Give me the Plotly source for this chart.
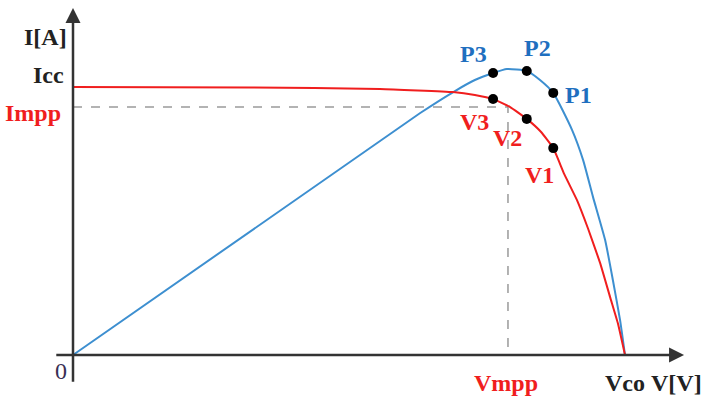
import plotly.graph_objects as go

# I-V characteristic of the PV module (normalised: Vco = 1, Icc-level = 1)
voltage = [0.0, 0.321, 0.556, 0.688, 0.728, 0.761, 0.792, 0.822, 0.848, 0.870,
           0.890, 0.913, 0.933, 0.955, 0.973, 0.987, 1.0]
current = [1.0, 0.998, 0.993, 0.981, 0.970, 0.955, 0.925, 0.881, 0.832, 0.772,
           0.675, 0.578, 0.472, 0.343, 0.216, 0.119, 0.0]

# P-V characteristic (scaled onto the same frame)
voltage_p = [0.0, 0.629, 0.692, 0.728, 0.761, 0.786, 0.822, 0.846, 0.870, 0.904,
             0.924, 0.942, 0.964, 0.978, 0.991, 1.0]
power = [0.0, 0.903, 0.985, 1.026, 1.052, 1.067, 1.060, 1.026, 0.978, 0.840,
         0.728, 0.590, 0.429, 0.280, 0.131, 0.0]

# operating points 1..3
op_v = [0.870, 0.822, 0.761]
op_i = [0.772, 0.881, 0.955]
op_p = [0.978, 1.060, 1.052]
p_labels = ["P1", "P2", "P3"]
v_labels = ["V1", "V2", "V3"]

v_mpp = 0.788
i_mpp = 0.925

RED = "#f01e1e"
BLUE = "#3d8fd0"
BLUE_TXT = "#1f6fbf"
AXIS = "#333333"
FONT = "Liberation Serif"

fig = go.Figure()

# maximum power point guides
fig.add_trace(go.Scatter(x=[0, v_mpp, v_mpp], y=[i_mpp, i_mpp, 0], mode="lines",
                         line=dict(color="#9a9a9a", width=1.5, dash="dash"),
                         hoverinfo="skip"))

fig.add_trace(go.Scatter(x=voltage_p, y=power, mode="lines",
                         line=dict(color=BLUE, width=2, shape="spline", smoothing=0.5)))
fig.add_trace(go.Scatter(x=voltage, y=current, mode="lines",
                         line=dict(color=RED, width=2, shape="spline", smoothing=0.35)))

fig.add_trace(go.Scatter(x=op_v + op_v, y=op_p + op_i, mode="markers",
                         marker=dict(color="black", size=10)))

# axes with arrows
fig.add_annotation(x=0, y=1.295, ax=0, ay=-0.105, axref="x", ayref="y",
                   text="", showarrow=True, arrowhead=2, arrowsize=1.2,
                   arrowwidth=2.5, arrowcolor=AXIS)
fig.add_annotation(x=1.107, y=0, ax=-0.033, ay=0, axref="x", ayref="y",
                   text="", showarrow=True, arrowhead=2, arrowsize=1.2,
                   arrowwidth=2.5, arrowcolor=AXIS)

def label(x, y, text, color, size=24, xanchor="center", weight="bold"):
    fig.add_annotation(x=x, y=y, text=text, showarrow=False, xanchor=xanchor,
                       yanchor="middle",
                       font=dict(family=FONT, size=size, color=color, weight=weight))

label(-0.049, 1.187, "I[A]", "#222222")
label(-0.045, 1.045, "Icc", "#222222")
label(-0.073, 0.903, "Impp", RED)
label(-0.022, -0.060, "0", "#3a2f55", weight="normal")
label(v_mpp - 0.004, -0.105, "Vmpp", RED)
label(1.000, -0.105, "Vco", "#222222")
label(1.144, -0.105, "V[V]", "#222222", xanchor="right")

p_pos = [(0.915, 0.970), (0.841, 1.146), (0.725, 1.123)]
v_pos = [(0.846, 0.672), (0.788, 0.810), (0.728, 0.869)]
for (x, y), t in zip(p_pos, p_labels):
    label(x, y, t, BLUE_TXT)
for (x, y), t in zip(v_pos, v_labels):
    label(x, y, t, RED)

fig.update_layout(
    width=705, height=403,
    margin=dict(l=0, r=0, t=0, b=0),
    paper_bgcolor="white", plot_bgcolor="white",
    showlegend=False,
    xaxis=dict(visible=False, range=[-0.13225, 1.14493], fixedrange=True),
    yaxis=dict(visible=False, range=[-0.17910, 1.32463], fixedrange=True),
)

fig.write_html("out.html")
